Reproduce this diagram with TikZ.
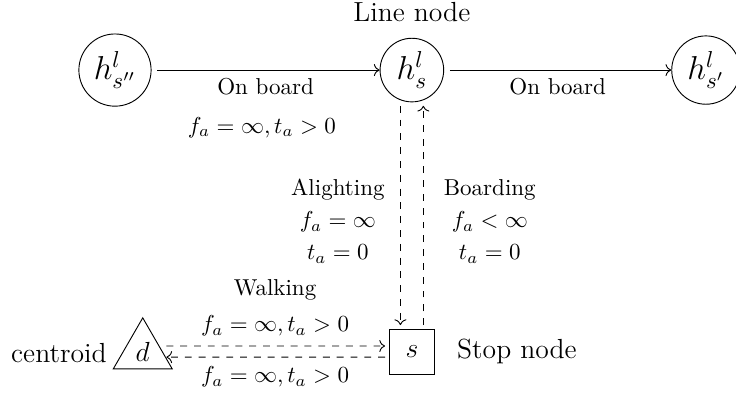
\documentclass[tikz,border=0pt]{standalone}
\usepackage{amsmath, amssymb}
\usetikzlibrary{arrows.meta, positioning, calc, shapes.geometric}

\begin{document}
\begin{tikzpicture}[
  linenode/.style={draw, circle, font=\Large, inner sep=2.5pt},
  stopnode/.style={draw, rectangle, font=\large, minimum size=0.7cm},
  centnode/.style={draw, regular polygon, regular polygon sides=3, font=\large, minimum size=1.04cm, inner sep=0pt},
  board/.style={->, shorten <=2.5pt},
  walk/.style={->, dashed, shorten >=1.5pt, shorten <=1.5pt},
]
\useasboundingbox (0,0) rectangle (11.24,6.0);

\node[linenode] (hpp) at (1.756,4.93) {$h^l_{s''}$};
\node[linenode] (h)   at (6.29,4.93)  {$h^l_s$};
\node[linenode] (hp)  at (10.78,4.93) {$h^l_{s'}$};
\node[font=\large] at (6.29,5.82) {Line node};

\node[stopnode] (s) at (6.29,0.626) {$s$};
\node[font=\large, right=6pt of s] {Stop node};
\node[centnode] (d) at (2.18,0.626) {$d$};
\node[font=\large] at (0.90,0.61) {centroid};

% on board edges
\draw[board] (hpp) -- node[below] {On board} (h);
\draw[board] (h) -- node[below] {On board} (hp);
\node at (4.0,4.05) {$f_a=\infty, t_a>0$};

% alighting / boarding
\draw[walk] ([xshift=-0.175cm]h.south) -- ([xshift=-0.175cm]s.north);
\draw[walk] ([xshift=0.175cm]s.north) -- ([xshift=0.175cm]h.south);
\node at (5.16,3.10) {Alighting};
\node at (5.16,2.61) {$f_a=\infty$};
\node at (5.16,2.12) {$t_a=0$};
\node at (7.48,3.10) {Boarding};
\node at (7.48,2.61) {$f_a<\infty$};
\node at (7.48,2.12) {$t_a=0$};

% walking
\draw[walk] ([yshift=0.09cm]d.east) -- ([yshift=0.09cm]s.west);
\draw[walk] ([yshift=-0.08cm]s.west) -- ([yshift=-0.08cm]d.east);
\node at (4.20,1.58) {Walking};
\node at (4.20,1.02) {$f_a=\infty, t_a>0$};
\node at (4.20,0.24) {$f_a=\infty, t_a>0$};
\end{tikzpicture}
\end{document}
